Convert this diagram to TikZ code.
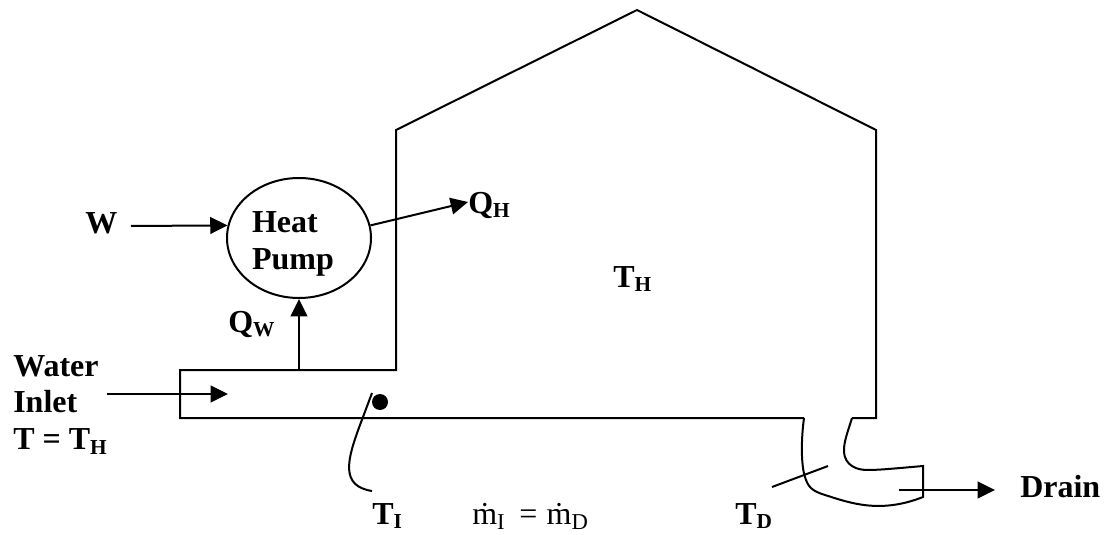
\documentclass[tikz,border=0pt]{standalone}
\usepackage{fontspec}
\setmainfont{Liberation Serif}
\usetikzlibrary{arrows.meta,positioning,calc,shapes.geometric}
\definecolor{ink}{RGB}{0,0,0}
\tikzset{
  wall/.style={draw=ink,line width=1.5pt,line join=miter},
  ar/.style={draw=ink,line width=1.5pt,-{Triangle[length=13pt,width=12.5pt]}},
  lbl/.style={font=\fontsize{24}{27.5}\selectfont\bfseries,inner sep=0pt,anchor=base west},
  flow/.style={font=\fontsize{24}{28}\selectfont,inner sep=0pt,anchor=base west},
  pump/.style={draw=ink,line width=1.5pt,ellipse,inner sep=0pt,minimum width=108pt,minimum height=90pt},
}
\newcommand{\subb}[1]{\raisebox{-0.14em}{\fontsize{16}{16}\selectfont #1}}
\newcommand{\subr}[1]{\raisebox{-0.18em}{\fontsize{17}{17}\selectfont #1}}

\begin{document}
\begin{tikzpicture}[x=0.75pt,y=-0.75pt]
  \useasboundingbox (0,0) rectangle (1107,535);

  % building and inlet pipe
  \draw[wall] (804,418) -- (180,418) -- (180,370) -- (396,370) -- (396,130)
     -- (637,10) -- (876,130) -- (876,418) -- (852,418);
  % drain pipe
  \draw[wall] (804,418) .. controls (801,440) and (801,465) .. (805,477)
     .. controls (808,487) and (812,491) .. (825,495)
     .. controls (850,503) and (880,514) .. (923,497)
     -- (923,466)
     .. controls (900,468) and (880,470) .. (868,470)
     .. controls (850,470) and (843,460) .. (844,448)
     .. controls (845,438) and (849,428) .. (852,418);

  % heat pump
  \node[pump] (hp) at (299,238) {};
  \node[lbl,align=left,anchor=center] (hptxt) at (293,244) {Heat\\Pump};
  \node[lbl] (w) at (85,233) {W};
  \node[lbl] (qh) at (468,213) {Q\subb{H}};
  \node[lbl] (qw) at (228,332) {Q\subb{W}};
  \coordinate (wS) at (131,226);
  \coordinate (qhE) at (468,202);
  \coordinate (qwS) at (299,370);
  \draw[ar] (wS) -- (hp.170);
  \draw[ar] (hp.10) -- (qhE);
  \draw[ar] (qwS) -- (hp.south);

  % inlet
  \node[lbl,align=left,anchor=north west] (inl) at (13,355) {Water\\Inlet\\T = T\subb{H}};
  \coordinate (inS) at (107,394);
  \coordinate (inE) at (228,394);
  \draw[ar] (inS) -- (inE);

  % sensors
  \node[circle,fill=ink,inner sep=0pt,minimum size=12pt] (dot) at (380,402) {};
  \node[lbl] (ti) at (372,524) {T\subb{I}};
  \coordinate (tiA) at (372,393);
  \coordinate (tiB) at (372,491);
  \draw[wall] (tiA) -- (360,425) .. controls (347,460) and (340,486) .. (tiB);
  \node[lbl] (td) at (735,524) {T\subb{D}};
  \coordinate (tdA) at (772,487);
  \coordinate (tdB) at (828,466);
  \draw[wall] (tdA) -- (tdB);

  \node[lbl] (th) at (613,287) {T\subb{H}};
  \node[flow] (flw) at (472,524) {\.m\subr{I}\hspace{5pt} = \hspace{1pt}\.m\subr{D}};

  % drain
  \node[lbl] (dr) at (1020,497) {Drain};
  \coordinate (drS) at (899,490);
  \coordinate (drE) at (995,490);
  \draw[ar] (drS) -- (drE);
\end{tikzpicture}
\end{document}
